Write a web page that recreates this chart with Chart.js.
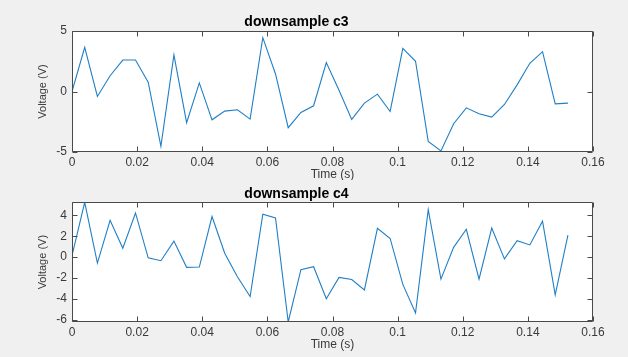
<!DOCTYPE html>
<html>
<head>
<meta charset="utf-8">
<script src="https://cdn.jsdelivr.net/npm/chart.js@4.4.1/dist/chart.umd.min.js"></script>
<style>
  html, body { margin: 0; padding: 0; background: #f0f0f0; }
  body { width: 628px; height: 357px; position: relative; overflow: hidden; }
  .box { position: absolute; left: 0; width: 628px; }
  #w1 { top: 0; height: 180px; }
  #w2 { top: 180px; height: 177px; }
</style>
</head>
<body>
<div class="box" id="w1"><canvas id="c1"></canvas></div>
<div class="box" id="w2"><canvas id="c2"></canvas></div>
<script>
// Sample times (s)
const timeS = [0, 0.0039, 0.0078, 0.0117, 0.0156, 0.0195, 0.0234, 0.0273, 0.0313, 0.0352,
  0.0391, 0.0430, 0.0469, 0.0508, 0.0547, 0.0586, 0.0625, 0.0664, 0.0703, 0.0742,
  0.0781, 0.0820, 0.0859, 0.0898, 0.0938, 0.0977, 0.1016, 0.1055, 0.1094, 0.1133,
  0.1172, 0.1211, 0.1250, 0.1289, 0.1328, 0.1367, 0.1406, 0.1445, 0.1484, 0.1523];

// downsample c3 voltage (V)
const c3Volts = [0.0, 3.65, -0.41, 1.3, 2.6, 2.6, 0.77, -4.53, 3.02, -2.58,
  0.71, -2.34, -1.62, -1.51, -2.28, 4.45, 1.45, -2.99, -1.73, -1.18,
  2.39, 0.1, -2.31, -0.96, -0.22, -1.65, 3.57, 2.5, -4.12, -4.91,
  -2.66, -1.35, -1.84, -2.11, -1.07, 0.55, 2.33, 3.29, -1.02, -0.96];

// downsample c4 voltage (V)
const c4Volts = [0.15, 5.25, -0.56, 3.52, 0.85, 4.23, -0.06, -0.34, 1.54, -0.97,
  -0.94, 3.89, 0.38, -1.88, -3.76, 4.11, 3.76, -6.2, -1.19, -0.91,
  -3.98, -1.94, -2.13, -3.13, 2.76, 1.79, -2.6, -5.33, 4.55, -2.1,
  0.94, 2.67, -2.1, 2.79, -0.16, 1.57, 1.17, 3.45, -3.6, 2.1];

// Tick values / labels
const xTicks = [0, 0.02, 0.04, 0.06, 0.08, 0.1, 0.12, 0.14, 0.16];
const xTickLabels = ['0', '0.02', '0.04', '0.06', '0.08', '0.1', '0.12', '0.14', '0.16'];
const c3YTicks = [-5, 0, 5];
const c4YTicks = [-6, -4, -2, 0, 2, 4];

const titles = ['downsample c3', 'downsample c4'];
const xTitle = 'Time (s)';
const yTitle = 'Voltage (V)';

const FONT = "'Liberation Sans', Arial, sans-serif";
const TEXT_COLOR = '#3a3a3a';
const BOX_COLOR = '#4a4a4a';

const boxPlugin = {
  id: 'matlabBox',
  beforeDatasetsDraw(chart) {
    const { ctx, chartArea: a } = chart;
    ctx.save();
    ctx.fillStyle = '#ffffff';
    ctx.fillRect(a.left, a.top, a.right - a.left, a.bottom - a.top);
    ctx.restore();
  },
  afterDatasetsDraw(chart) {
    const { ctx, chartArea: a, scales } = chart;
    const L = Math.round(a.left) + 0.5, R = Math.round(a.right) - 0.5;
    const T = Math.round(a.top) + 0.5, B = Math.round(a.bottom) - 0.5;
    const tl = 5;
    ctx.save();
    ctx.strokeStyle = BOX_COLOR;
    ctx.lineWidth = 1;
    ctx.beginPath();
    ctx.rect(L, T, R - L, B - T);
    scales.x.ticks.forEach(t => {
      const px = Math.round(scales.x.getPixelForValue(t.value)) + 0.5;
      ctx.moveTo(px, B); ctx.lineTo(px, B - tl);
      ctx.moveTo(px, T); ctx.lineTo(px, T + tl);
    });
    scales.y.ticks.forEach(t => {
      const py = Math.round(scales.y.getPixelForValue(t.value)) + 0.5;
      ctx.moveTo(L, py); ctx.lineTo(L + tl, py);
      ctx.moveTo(R, py); ctx.lineTo(R - tl, py);
    });
    ctx.stroke();
    ctx.restore();
  }
};

function makeChart(id, volts, yTicks, yMin, yMax, title, layout) {
  const pts = timeS.map((t, i) => ({ x: t, y: volts[i] }));
  return new Chart(document.getElementById(id), {
    type: 'line',
    data: {
      datasets: [{
        data: pts,
        borderColor: '#1f7fc6',
        borderWidth: 1.1,
        pointRadius: 0,
        tension: 0,
        fill: false
      }]
    },
    options: {
      responsive: true,
      maintainAspectRatio: false,
      animation: false,
      devicePixelRatio: 1,
      layout: { padding: { left: 0, right: 35, top: 0, bottom: 0 } },
      plugins: {
        legend: { display: false },
        tooltip: { enabled: false },
        title: {
          display: true,
          text: title,
          color: '#000000',
          font: { family: FONT, size: 14, weight: 'bold', lineHeight: 1.2 },
          padding: { top: layout.titleTop, bottom: layout.titleBottom }
        }
      },
      scales: {
        x: {
          type: 'linear',
          min: 0,
          max: 0.16,
          afterBuildTicks(s) { s.ticks = xTicks.map(v => ({ value: v })); },
          afterFit(s) { s.height = layout.xHeight; },
          grid: { display: false, drawTicks: false },
          border: { display: false },
          ticks: {
            color: TEXT_COLOR,
            font: { family: FONT, size: 12 },
            padding: layout.xTickPad,
            maxRotation: 0,
            autoSkip: false,
            callback(v) { const i = xTicks.indexOf(v); return i >= 0 ? xTickLabels[i] : ''; }
          },
          title: {
            display: true,
            text: xTitle,
            color: TEXT_COLOR,
            font: { family: FONT, size: 12, lineHeight: 0.9 },
            padding: { top: 0, bottom: layout.xTitlePad }
          }
        },
        y: {
          type: 'linear',
          min: yMin,
          max: yMax,
          afterBuildTicks(s) { s.ticks = yTicks.map(v => ({ value: v })); },
          afterFit(s) { s.width = 72; },
          grid: { display: false, drawTicks: false },
          border: { display: false },
          ticks: {
            color: TEXT_COLOR,
            font: { family: FONT, size: 12 },
            padding: 5,
            autoSkip: false,
            callback(v) { return String(v); }
          },
          title: {
            display: true,
            text: yTitle,
            color: TEXT_COLOR,
            font: { family: FONT, size: 11, lineHeight: 1 },
            padding: { top: 37.2, bottom: 0 }
          }
        }
      }
    },
    plugins: [boxPlugin]
  });
}

makeChart('c1', c3Volts, c3YTicks, -5, 5, titles[0],
  { titleTop: 13.6, titleBottom: 0.6, xHeight: 28, xTickPad: 3, xTitlePad: 0 });
makeChart('c2', c4Volts, c4YTicks, -6.2, 5.25, titles[1],
  { titleTop: 5.5, titleBottom: 0, xHeight: 35, xTickPad: 3, xTitlePad: 6.8 });
</script>
</body>
</html>
